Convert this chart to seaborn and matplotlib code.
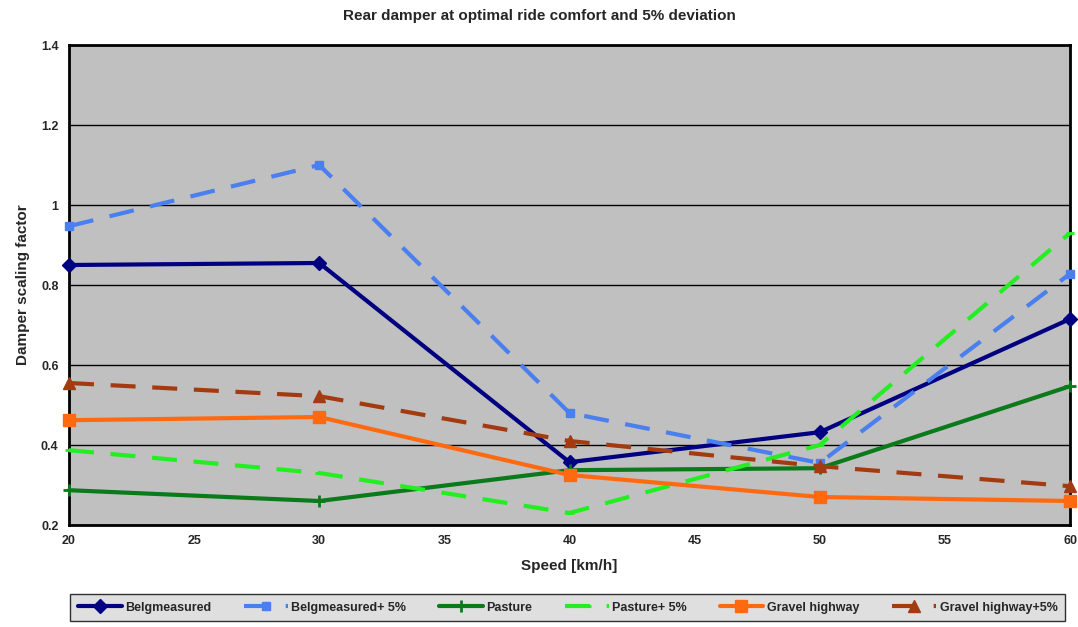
import matplotlib
matplotlib.use("Agg")
import matplotlib.pyplot as plt
import seaborn as sns
import pandas as pd

speeds = [20, 30, 40, 50, 60]
belg = [0.85, 0.855, 0.357, 0.432, 0.715]
belg5 = [0.947, 1.10, 0.48, 0.355, 0.828]
pasture = [0.287, 0.26, 0.337, 0.342, 0.547]
pasture5 = [0.387, 0.33, 0.23, 0.40, 0.93]
gravel = [0.462, 0.47, 0.325, 0.27, 0.26]
gravel5 = [0.555, 0.522, 0.41, 0.347, 0.297]

names = ["Belgmeasured", "Belgmeasured+ 5%", "Pasture", "Pasture+ 5%",
         "Gravel highway", "Gravel highway+5%"]
series = [belg, belg5, pasture, pasture5, gravel, gravel5]
colors = ["#000080", "#4a7ff0", "#0a7a1a", "#22ee22", "#ff6a10", "#a33a10"]
dashed = [False, True, False, True, False, True]
markers = ["D", "s", "+", "_", "s", "^"]
msizes = [7, 6, 8, 6, 9, 8]

rows = []
for n, s in zip(names, series):
    for x, y in zip(speeds, s):
        rows.append({"Speed": x, "Value": y, "Series": n})
df = pd.DataFrame(rows)

sns.set_style("white")
plt.rcParams['font.family'] = ['Liberation Sans', 'DejaVu Sans']

fig = plt.figure(figsize=(10.78, 6.27), dpi=100)
ax = fig.add_axes([69/1078, 1 - 525/627, (1070-69)/1078, (525-45)/627])
ax.set_facecolor("#c0c0c0")

for n, c, d, m, ms in zip(names, colors, dashed, markers, msizes):
    sub = df[df["Series"] == n]
    sns.lineplot(data=sub, x="Speed", y="Value", ax=ax, color=c,
                 linewidth=3, marker=m, markersize=ms,
                 markeredgecolor=c, markeredgewidth=2 if m in "+_" else 1,
                 label=n, legend=False,
                 dashes=False)
    line = ax.lines[-1]
    line.set_clip_on(False)
    line.set_zorder(3)
    if d:
        line.set_dashes([6, 4])

ax.set_xlim(20, 60)
ax.set_ylim(0.2, 1.4)
ax.set_xticks([20, 25, 30, 35, 40, 45, 50, 55, 60])
ax.set_yticks([0.2, 0.4, 0.6, 0.8, 1.0, 1.2, 1.4])
ax.set_yticklabels(["0.2", "0.4", "0.6", "0.8", "1", "1.2", "1.4"])
ax.yaxis.grid(True, color="black", linewidth=1)
ax.xaxis.grid(False)
for sp in ax.spines.values():
    sp.set_color("black")
    sp.set_linewidth(2)
ax.tick_params(axis="both", labelsize=9, direction="out", length=4, width=1.2, color="black")
for lbl in ax.get_xticklabels() + ax.get_yticklabels():
    lbl.set_fontweight("bold")
ax.set_xlabel("Speed [km/h]", fontsize=11, fontweight="bold", labelpad=8)
ax.set_ylabel("Damper scaling factor", fontsize=11, fontweight="bold", labelpad=8)
fig.suptitle("Rear damper at optimal ride comfort and 5% deviation",
             fontsize=11, fontweight="bold", y=0.985)

handles = ax.lines[:len(names)]
leg = fig.legend(handles, names, loc="lower center", ncol=6,
                 bbox_to_anchor=(0.5265, 0.005), frameon=True,
                 handlelength=3.5, columnspacing=2.6, handletextpad=0.3,
                 borderpad=0.3, prop={"weight": "bold", "size": 9})
leg.get_frame().set_edgecolor("black")
leg.get_frame().set_facecolor("#d8d8d8")
leg.get_frame().set_linewidth(1)
leg.get_frame().set_boxstyle("square")

fig.savefig("out.png", dpi=100, facecolor="white")
